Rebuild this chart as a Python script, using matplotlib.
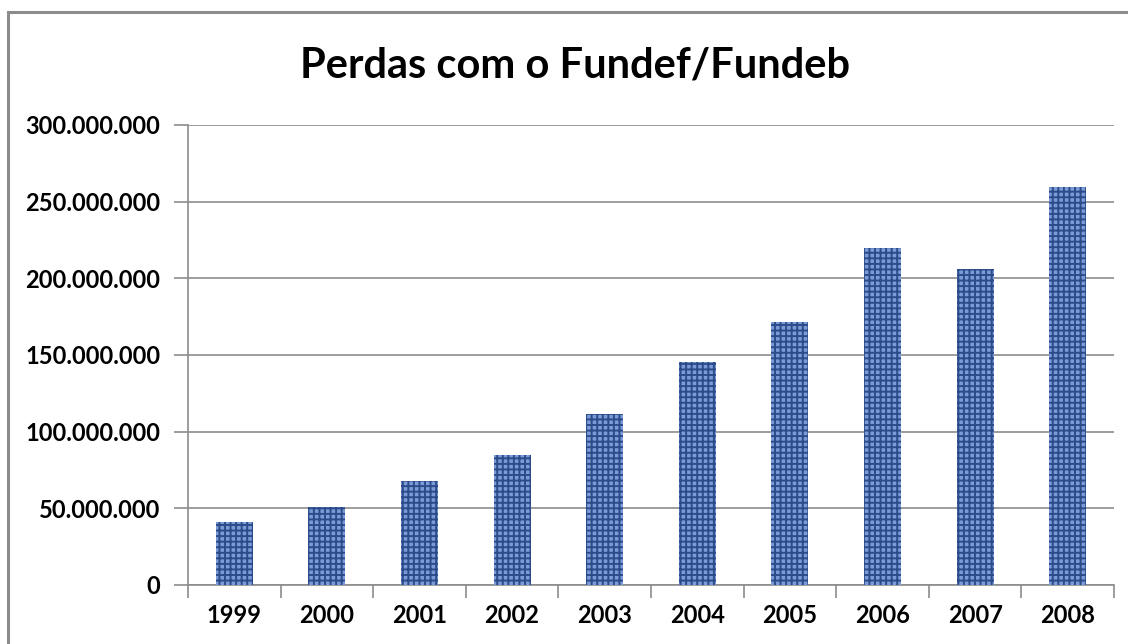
import matplotlib.pyplot as plt
from matplotlib.patches import Rectangle
from matplotlib.ticker import FuncFormatter, FixedLocator

anos = ["1999", "2000", "2001", "2002", "2003", "2004", "2005", "2006", "2007", "2008"]
perdas = [41_000_000, 51_000_000, 68_000_000, 85_000_000, 111_500_000,
          145_500_000, 171_500_000, 220_000_000, 206_000_000, 259_500_000]
y_ticks = [0, 50_000_000, 100_000_000, 150_000_000, 200_000_000, 250_000_000, 300_000_000]

plt.rcParams['font.family'] = ['Lato', 'DejaVu Sans']
plt.rcParams['hatch.linewidth'] = 1.4

fig = plt.figure(figsize=(11.28, 6.44), dpi=100)
ax = fig.add_axes([188 / 1128, 1 - 585 / 644, 926 / 1128, 460 / 644])

# outer chart border (cut off at right/bottom like the source)
fig.patches.append(Rectangle((8 / 1128, -0.1), 1.2, 1 - 12 / 644 + 0.1,
                             transform=fig.transFigure, fill=False,
                             edgecolor='#8c8c8c', linewidth=2.2))

x = list(range(len(anos)))
ax.bar(x, perdas, width=0.4, color='#7b9bd6', edgecolor='#2c4b8a',
       hatch='+++', linewidth=0, zorder=3)

ax.set_xlim(-0.5, len(anos) - 0.5)
ax.set_ylim(0, 300_000_000)
ax.set_yticks(y_ticks)
ax.yaxis.set_major_formatter(FuncFormatter(lambda v, p: f"{int(v):,}".replace(",", ".")))
ax.grid(axis='y', color='#8c8c8c', linewidth=1.2, zorder=0)

ax.set_xticks(x)
ax.set_xticklabels(anos)
ax.xaxis.set_minor_locator(FixedLocator([i - 0.5 for i in range(len(anos) + 1)]))
ax.tick_params(axis='x', which='major', length=0, pad=14)
ax.tick_params(axis='x', which='minor', length=9, color='#8c8c8c', width=1.2)
ax.tick_params(axis='y', length=10, color='#8c8c8c', width=1.2, pad=10)

for lbl in ax.get_xticklabels() + ax.get_yticklabels():
    lbl.set_fontsize(17)
    lbl.set_fontweight('bold')
    lbl.set_color('black')

for s in ['top', 'right']:
    ax.spines[s].set_visible(False)
for s in ['left', 'bottom']:
    ax.spines[s].set_color('#8c8c8c')
    ax.spines[s].set_linewidth(1.2)

fig.text(575 / 1128, 1 - 66 / 644, "Perdas com o Fundef/Fundeb",
         ha='center', va='center', fontsize=30, fontweight='bold')

fig.savefig("out.png", dpi=100, facecolor='white')
